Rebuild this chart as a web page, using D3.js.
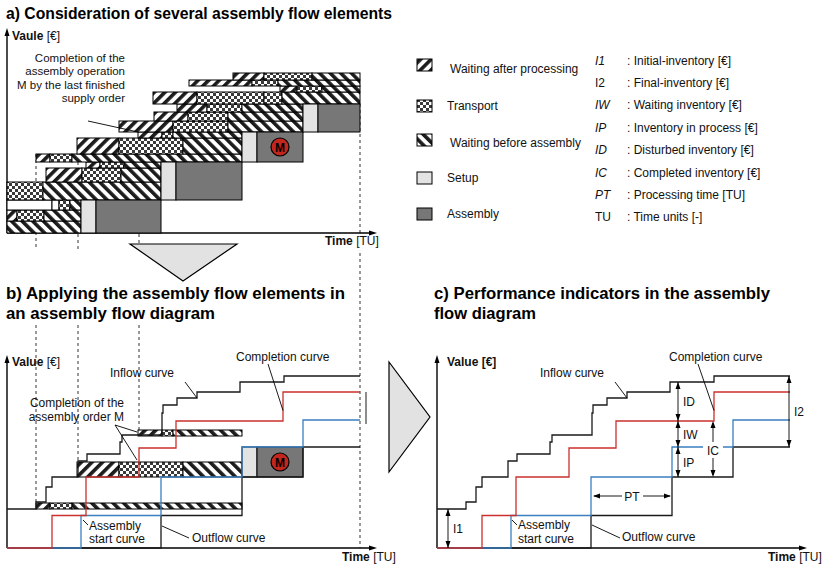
<!DOCTYPE html>
<html>
<head>
<meta charset="utf-8"/>
<script src="https://d3js.org/d3.v7.min.js"></script>
<style>
body { margin: 0; background: #fff; }
svg { font-family: "Liberation Sans", Arial, sans-serif; }
.title { font-size: 16px; font-weight: bold; }
.lbl { font-size: 12px; fill: #111; }
.axis { stroke: #000; stroke-width: 1.4px; }
.dash { stroke: #333; stroke-width: 1px; stroke-dasharray: 3,3; fill: none; }
.blk { stroke: #000; stroke-width: 1px; }
.lead { stroke: #000; stroke-width: 0.9px; fill: none; }
.curve { fill: none; stroke-width: 1.3px; }
</style>
</head>
<body>
<script>

// time in TU, value in value units (both)

// panel a: supply order flow elements [type, t0, t1, v0, v1]
var elementsA = [
  ["wba", 0, 14.8, 0, 2.4],
  ["wap", 0, 2, 2.4, 4.6], ["tr", 2, 7.4, 2.4, 4.6], ["wba", 7.4, 14.8, 2.4, 4.6],
  ["none", 0, 9, 4.6, 6.6], ["none", 9, 10.4, 4.6, 6.6], ["tr", 10.4, 12.6, 4.6, 6.6], ["wba", 12.6, 14.8, 4.6, 6.6],
  ["tr", 0, 7.2, 6.6, 10.2], ["wba", 7.2, 30.8, 6.6, 10.2],
  ["wap", 7.8, 15, 10.2, 13], ["tr", 15, 22.8, 10.2, 13], ["wba", 22.8, 30.8, 10.2, 13],
  ["wap", 15.8, 18.6, 13, 14.2], ["tr", 18.6, 23.4, 13, 14.2], ["wba", 23.4, 30.8, 13, 14.2],
  ["wap", 5.8, 8.6, 14.2, 15.8], ["tr", 8.6, 13, 14.2, 15.8], ["wba", 13, 47, 14.2, 15.8],
  ["wap", 14, 22.4, 15.8, 19], ["tr", 22.4, 35.2, 15.8, 19], ["wba", 35.2, 47, 15.8, 19],
  ["wap", 26.2, 31, 19, 20.2], ["tr", 31, 33.2, 19, 20.2], ["wba", 33.2, 47, 19, 20.2],
  ["wap", 22.4, 33.2, 20.2, 22.4], ["tr", 33.2, 44.2, 20.2, 22.4], ["wba", 44.2, 59.2, 20.2, 22.4],
  ["wap", 29.4, 36.2, 22.4, 24.2], ["tr", 36.2, 44.2, 22.4, 24.2], ["wba", 44.2, 59.2, 22.4, 24.2],
  ["wap", 34, 40, 24.2, 25.8], ["tr", 40, 47, 24.2, 25.8], ["wba", 47, 59.2, 24.2, 25.8],
  ["wap", 29.2, 38, 25.8, 28.2], ["tr", 38, 51.4, 25.8, 28.2], ["tr", 51.4, 55, 25.8, 28.2], ["wba", 55, 70.6, 25.8, 28.2],
  ["wap", 54.6, 58, 28.2, 29.4], ["tr", 58, 63, 28.2, 29.4], ["wba", 63, 70.6, 28.2, 29.4],
  ["wap", 36.4, 49, 29.4, 30.6], ["tr", 49, 54.2, 29.4, 30.6], ["wba", 54.2, 70.6, 29.4, 30.6],
  ["wap", 45.2, 51.4, 30.6, 32], ["tr", 51.4, 61, 30.6, 32], ["wba", 61, 70.6, 30.6, 32]
];
// setup + assembly [setupStart, assemblyStart, end, v0, v1]
var assemblyA = [
  [14.8, 17.8, 30.8, 0, 6.6],
  [30.8, 33.8, 47, 6.6, 14.2],
  [47, 50, 59.2, 14.2, 20.2],
  [59.2, 62.2, 70.6, 20.2, 25.8]
];

// panel b: the elements of order M placed in the flow diagram
var elementsB = [
  ["wap", 5.8, 8.6, 7.8, 9], ["tr", 8.6, 13, 7.8, 9], ["wba", 13, 47, 7.8, 9],
  ["wap", 14, 22.4, 14.2, 17.2], ["tr", 22.4, 35.2, 14.2, 17.2], ["wba", 35.2, 47, 14.2, 17.2],
  ["wap", 26.2, 31, 22.4, 23.6], ["tr", 31, 33.2, 22.4, 23.6], ["wba", 33.2, 47, 22.4, 23.6]
];
var assemblyB = [[47, 50, 59.2, 14.2, 20.2]];

// step curves [t, value]
var inflow = [[0,7.8],[5.8,9.2],[7.8,12.2],[9,14.2],[14.2,17.4],[16,18.8],[22.6,21.2],[23,22.6],
              [31,27],[31.2,28.6],[34,30],[38,31.2],[46.6,33.2],[55.4,34.4],[70.6,34.4]];
var completionB = [[0,0],[9,6.5],[15.8,14.2],[26.4,20],[33.8,25.4],[55.2,31.2],[70.6,31.2]];
var completionC = [[0,0],[9,6.5],[15.8,14.2],[26.4,20],[35.8,25.4],[55.4,31.2],[70.6,31.2]];
var assemblyStart = [[0,0],[14.8,6.5],[30.8,14.2],[47,20.2],[59.2,25.6],[70.6,25.6]];
var outflow = [[0,0],[30.8,6.5],[47,14.2],[59.2,20.2],[70.6,20.2]];

var dashT = [5.8, 14.2, 26.4, 70.6];

var legendTypes = ["wap", "tr", "wba", "su", "as"];
var legendNames = ["Waiting after processing", "Transport", "Waiting before assembly", "Setup", "Assembly"];
var abbrs = ["I1", "I2", "IW", "IP", "ID", "IC", "PT", "TU"];
var abbrItalic = [true, false, true, true, true, true, true, false];
var abbrText = [": Initial-inventory [€]", ": Final-inventory [€]", ": Waiting inventory [€]",
  ": Inventory in process [€]", ": Disturbed inventory [€]", ": Completed inventory [€]",
  ": Processing time [TU]", ": Time units [-]"];

var svg = d3.select("body").append("svg").attr("width", 828).attr("height", 567);

// scales
var xA = d3.scaleLinear().domain([0, 72]).range([7, 367]);
var yA = d3.scaleLinear().domain([0, 41]).range([233, 28]);
var xB = xA;
var yB = d3.scaleLinear().domain([0, 38.6]).range([548, 355]);
var xC = d3.scaleLinear().domain([0, 72]).range([437, 797]);
var yC = yB;

// patterns
var defs = svg.append("defs");
function stripes(id, angle) {
  var p = defs.append("pattern").attr("id", id).attr("patternUnits", "userSpaceOnUse")
    .attr("width", 7.5).attr("height", 7.5).attr("patternTransform", "rotate(" + angle + ")");
  p.append("rect").attr("width", 7.5).attr("height", 7.5).attr("fill", "#fff");
  p.append("rect").attr("width", 3.6).attr("height", 7.5).attr("fill", "#1c1c1c");
}
stripes("wap", 45);
stripes("wba", -45);
var ck = defs.append("pattern").attr("id", "tr").attr("patternUnits", "userSpaceOnUse")
  .attr("width", 6).attr("height", 6);
ck.append("rect").attr("width", 6).attr("height", 6).attr("fill", "#fff");
ck.append("rect").attr("width", 3).attr("height", 3).attr("fill", "#3a3a3a");
ck.append("rect").attr("x", 3).attr("y", 3).attr("width", 3).attr("height", 3).attr("fill", "#3a3a3a");

var fillOf = { wap: "url(#wap)", wba: "url(#wba)", tr: "url(#tr)", su: "#e3e3e3", as: "#777", none: "#fff" };

function head(g, x, y, ang, L, W) {
  var c = Math.cos(ang), s = Math.sin(ang);
  var bx = x - L * c, by = y - L * s;
  g.append("path")
    .attr("d", "M" + x + "," + y + "L" + (bx - W / 2 * s) + "," + (by + W / 2 * c) +
               "L" + (bx + W / 2 * s) + "," + (by - W / 2 * c) + "Z")
    .attr("fill", "#000");
}

function line(g, x1, y1, x2, y2, cls) {
  return g.append("line").attr("x1", x1).attr("y1", y1).attr("x2", x2).attr("y2", y2).attr("class", cls || "lead");
}

function axes(g, x0, y0, x1, yTop) {
  line(g, x0, y0, x0, yTop + 6, "axis");
  head(g, x0, yTop, -Math.PI / 2, 8, 5);
  line(g, x0, y0, x1 - 6, y0, "axis");
  head(g, x1, y0, 0, 8, 5);
}

function text(g, x, y, parts, anchor, size) {
  var t = g.append("text").attr("x", x).attr("y", y).attr("class", "lbl")
    .attr("text-anchor", anchor || "start");
  if (size) t.style("font-size", size + "px");
  parts.forEach(function(p) {
    var s = t.append("tspan").text(p[0]);
    if (p[1] == "b") s.attr("font-weight", "bold");
    if (p[1] == "i") s.attr("font-style", "italic");
  });
  return t;
}

function title(x, y, w, s) {
  svg.append("text").attr("class", "title").attr("x", x).attr("y", y)
    .attr("textLength", w).attr("lengthAdjust", "spacingAndGlyphs").text(s);
}

function drawElements(g, list, xs, ys) {
  g.append("g").selectAll("rect").data(list).join("rect")
    .attr("class", "blk")
    .attr("x", d => xs(d[1])).attr("y", d => ys(d[4]))
    .attr("width", d => xs(d[2]) - xs(d[1])).attr("height", d => ys(d[3]) - ys(d[4]))
    .attr("fill", d => fillOf[d[0]]);
}

function drawAssembly(g, list, xs, ys, mIndex) {
  var parts = [];
  list.forEach(function(d) {
    parts.push(["su", d[0], d[1], d[3], d[4]]);
    parts.push(["as", d[1], d[2], d[3], d[4]]);
  });
  drawElements(g, parts, xs, ys);
  var m = list[mIndex];
  var cx = xs((m[1] + m[2]) / 2), cy = ys((m[3] + m[4]) / 2);
  g.append("circle").attr("cx", cx).attr("cy", cy).attr("r", 9)
    .attr("fill", "#c4261d").attr("stroke", "#000").attr("stroke-width", 1.2);
  g.append("text").attr("x", cx).attr("y", cy + 4.5).attr("text-anchor", "middle")
    .attr("font-weight", "bold").attr("font-size", "12px").text("M");
}

// ---------------- titles ----------------
title(6, 19, 386, "a) Consideration of several assembly flow elements");
title(6, 299, 339, "b) Applying the assembly flow elements in");
title(6, 319, 209, "an assembly flow diagram");
title(434, 299, 336, "c) Performance indicators in the assembly");
title(434, 319, 102, "flow diagram");

// ---------------- dashed guide lines ----------------
var gd = svg.append("g");
var topA = [15.8, 19, 20.2, 25.8], botA = [250, 250, 244, 233];
var topB = [325, 325, 325, 253], endB = [9, 17.2, 23.6, 0];
dashT.forEach(function(t, i) {
  line(gd, xA(t), yA(topA[i]), xA(t), botA[i], "dash");
  line(gd, xB(t), topB[i], xB(t), yB(endB[i]), "dash");
});

// ---------------- panel a ----------------
var ga = svg.append("g");
axes(ga, 7, 233, 377, 28);
drawElements(ga, elementsA, xA, yA);
drawAssembly(ga, assemblyA, xA, yA, 2);
text(ga, 12, 39.5, [["Vaule", "b"], [" [€]"]]);
text(ga, 325, 245, [["Time", "b"], [" [TU]"]]);
["Completion of the", "assembly operation", "M by the last finished", "supply order"].forEach(function(s, i) {
  text(ga, 125, 61.5 + i * 13.5, [[s]], "end", 11.5);
});
line(ga, 88, 121, xA(26.2), yA(20.2));

// big arrows between the panels
svg.append("path").attr("d", "M130,244L237,244L183,281Z")
  .attr("fill", "#e2e2e2").attr("stroke", "#000").attr("stroke-width", 1.2);
svg.append("path").attr("d", "M389,362L389,472L430,417Z")
  .attr("fill", "#e2e2e2").attr("stroke", "#000").attr("stroke-width", 1.2);

// ---------------- legend ----------------
var gl = svg.append("g");
var legY = [59, 100, 134, 172, 208], legTx = [450, 447, 450, 447, 447];
legendTypes.forEach(function(t, i) {
  gl.append("rect").attr("x", 417).attr("y", legY[i]).attr("width", 15).attr("height", 12)
    .attr("fill", fillOf[t]).attr("stroke", "#000").attr("stroke-width", 1);
  text(gl, legTx[i], legY[i] + 10 + (i == 0 ? 4 : 0) + (i == 2 ? 3 : 0), [[legendNames[i]]]);
});
abbrs.forEach(function(a, i) {
  var y = 64.5 + i * 22.4;
  text(gl, 595, y, [[a, abbrItalic[i] ? "i" : ""]]);
  text(gl, 627, y, [[abbrText[i]]]);
});

// ---------------- step curves ----------------
function curves(g, xs, ys, completion) {
  var ln = d3.line().x(d => xs(d[0])).y(d => ys(d[1])).curve(d3.curveStepAfter);
  g.append("path").datum(outflow).attr("class", "curve").attr("stroke", "#1a1a1a").attr("d", ln);
  g.append("path").datum(assemblyStart).attr("class", "curve").attr("stroke", "#3a7fc0").attr("d", ln);
  g.append("path").datum(completion).attr("class", "curve").attr("stroke", "#c9302c").attr("d", ln);
  g.append("path").datum(inflow).attr("class", "curve").attr("stroke", "#1a1a1a").attr("d", ln);
}

// ---------------- panel b ----------------
var gb = svg.append("g");
axes(gb, 7, 548, 377, 355);
drawElements(gb, elementsB, xB, yB);
drawAssembly(gb, assemblyB, xB, yB, 0);
curves(gb, xB, yB, completionB);
line(gb, 366, 392, 366, 424);
text(gb, 12, 366, [["Value", "b"], [" [€]"]]);
text(gb, 342, 561, [["Time", "b"], [" [TU]"]]);
text(gb, 110, 377, [["Inflow curve"]]);
line(gb, 185, 382, xB(38), yB(30));
text(gb, 236, 361, [["Completion curve"]]);
line(gb, 268, 364, xB(55.2), yB(27.5));
text(gb, 124, 406.5, [["Completion of the"]], "end");
text(gb, 124, 420.5, [["assembly order M"]], "end");
line(gb, 115, 425, xB(26), yB(23.2));
line(gb, 115, 425, xB(26), yB(17.6));
text(gb, 89, 530, [["Assembly"]]);
text(gb, 89, 543, [["start curve"]]);
line(gb, 88, 525, 83, 520);
text(gb, 192, 542, [["Outflow curve"]]);
line(gb, 162, 526, 189, 538);

// ---------------- panel c ----------------
var gc = svg.append("g");
axes(gc, 437, 548, 807, 355);
curves(gc, xC, yC, completionC);
text(gc, 447, 366, [["Value [€]", "b"]]);
text(gc, 768, 561, [["Time", "b"], [" [TU]"]]);
text(gc, 540, 377, [["Inflow curve"]]);
line(gc, 615, 382, xC(38), yC(30));
text(gc, 669, 361, [["Completion curve"]]);
line(gc, 698, 364, xC(55.4), yC(27.5));
text(gc, 518, 529, [["Assembly"]]);
text(gc, 518, 543, [["start curve"]]);
line(gc, 517, 525, 512, 520);
text(gc, 622, 541, [["Outflow curve"]]);
line(gc, 592, 525, 620, 538);

// indicators
function dbl(g, x1, y1, x2, y2) {
  var ang = Math.atan2(y2 - y1, x2 - x1);
  line(g, x1, y1, x2, y2);
  head(g, x2, y2, ang, 7, 5);
  head(g, x1, y1, ang + Math.PI, 7, 5);
}
var indicators = [
  ["I1", 2.2, 0, 7.8], ["ID", 48.2, 25.4, 33.2], ["IW", 48.2, 20.2, 25.4],
  ["IP", 48.2, 14.2, 20.2], ["I2", 70.4, 20.2, 34.4]
];
indicators.forEach(function(d) {
  var x = xC(d[1]);
  dbl(gc, x, yC(d[2]), x, yC(d[3]));
  text(gc, x + 5, (yC(d[2]) + yC(d[3])) / 2 + 4.5, [[d[0]]]);
});
// IC: completed inventory between outflow and completion curve
var icx = xC(55.2), icy = yC(19.6);
gc.append("rect").attr("x", icx - 10).attr("y", icy - 7).attr("width", 20).attr("height", 14).attr("fill", "#fff");
text(gc, icx, icy + 4.5, [["IC"]], "middle");
line(gc, icx, icy - 8, icx, yC(25.4) + 2);
head(gc, icx, yC(25.4), -Math.PI / 2, 7, 5);
line(gc, icx, icy + 8, icx, yC(14.2) - 2);
head(gc, icx, yC(14.2), Math.PI / 2, 7, 5);
// PT: processing time
var pty = yC(10.4), ptx = xC(39);
text(gc, ptx, pty + 4.5, [["PT"]], "middle");
line(gc, ptx - 10, pty, xC(31) + 2, pty);
head(gc, xC(31) + 1, pty, Math.PI, 7, 5);
line(gc, ptx + 11, pty, xC(47) - 2, pty);
head(gc, xC(47) - 1, pty, 0, 7, 5);

</script>
</body>
</html>
